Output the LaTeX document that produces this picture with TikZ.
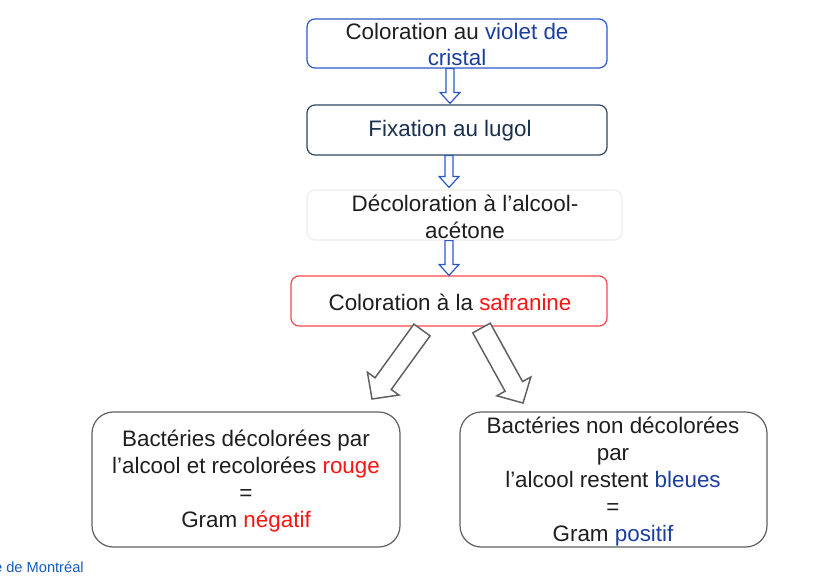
\documentclass[tikz,border=0pt]{standalone}
\usepackage{fontspec}
\setmainfont{Liberation Sans}
\usetikzlibrary{calc}

\definecolor{bleuCadre}{RGB}{44,88,200}
\definecolor{ardoise}{RGB}{45,70,95}
\definecolor{marine}{RGB}{25,48,78}
\definecolor{bleuTexte}{RGB}{28,62,160}
\definecolor{rouge}{RGB}{250,20,20}
\definecolor{rougeCadre}{RGB}{250,70,75}
\definecolor{gris}{RGB}{95,95,95}
\definecolor{texte}{RGB}{30,30,30}
\definecolor{bleuUdeM}{RGB}{20,90,190}

% fleche creuse : style, depart, pointe, demi-largeur du corps, demi-largeur de la tete, longueur de la tete
\newcommand{\flecheBloc}[6]{%
  \coordinate (fb-base) at ($(#3)!#6!(#2)$);
  \draw[#1] ($(#2)!#4!90:(#3)$) -- ($(fb-base)!#4!90:(#3)$) -- ($(fb-base)!#5!90:(#3)$) -- (#3)
    -- ($(fb-base)!#5!-90:(#3)$) -- ($(fb-base)!#4!-90:(#3)$) -- ($(#2)!#4!-90:(#3)$) -- cycle;
}

\begin{document}
\begin{tikzpicture}[x=0.75pt,y=-0.75pt]

    \tikzset{
      etape/.style={
        draw,
        rounded corners=6pt,
        line width=0.9pt,
        inner sep=0pt,
        minimum height=37.5pt,
      },
      resultat/.style={
        draw=gris,
        rounded corners=16pt,
        line width=0.9pt,
        inner sep=0pt,
        minimum height=101.25pt,
      },
      libelle/.style={
        align=center,
        text=texte,
        inner sep=0pt,
        font=\fontsize{16.8}{20.2}\selectfont,
      },
      flecheBleue/.style={draw=bleuCadre,line width=0.9pt,line join=miter,fill=white},
      flecheGrise/.style={draw=gris,line width=1.1pt,line join=miter,fill=white},
    }
    \useasboundingbox (0,0) rectangle (820,578);
    \clip (0,0) rectangle (820,578);

	% etapes de la coloration
	\node[etape,draw=bleuCadre,minimum width=225pt,minimum height=36.75pt] (violet) at (457,43.5) {};
	\node[etape,draw=ardoise,minimum width=225pt] (lugol) at (457,130) {};
	\node[etape,draw=black!7,minimum width=236.25pt] (alcool) at (464.5,215) {};
	\node[etape,draw=rougeCadre,minimum width=237pt] (safranine) at (449,301) {};

	\node[libelle] (t-violet) at (457,44.5) {Coloration au \textcolor{bleuTexte}{violet de}\\\textcolor{bleuTexte}{cristal}};
	\node[libelle,text=marine] (t-lugol) at (450,131) {Fixation au lugol};
	\node[libelle] (t-alcool) at (465,217) {Décoloration à l’alcool-\\acétone};
	\node[libelle] (t-safranine) at (450,302) {Coloration à la \textcolor{rouge}{safranine}};

	% resultats
	\node[resultat,minimum width=231pt] (negatif) at (246,479.5) {};
	\node[resultat,minimum width=230.25pt] (positif) at (613.5,479.5) {};

	\node[libelle] (t-negatif) at (246,481) {Bactéries décolorées par\\l’alcool et recolorées \textcolor{rouge}{rouge}\\=\\Gram \textcolor{rouge}{négatif}};
	\node[libelle] (t-positif) at (613,481.5) {Bactéries non décolorées\\par\\l’alcool restent \textcolor{bleuTexte}{bleues}\\=\\Gram \textcolor{bleuTexte}{positif}};

	% fleches
	\coordinate (v-dep) at ($(violet.south)+(-7,0)$);
	\coordinate (v-fin) at ($(lugol.north)+(-7,-1)$);
	\coordinate (l-dep) at ($(lugol.south)+(-8,0)$);
	\coordinate (l-fin) at ($(alcool.north)+(-15.5,-2)$);
	\coordinate (a-dep) at ($(alcool.south)+(-15.5,0)$);
	\coordinate (a-fin) at ($(safranine.north)+(0,0)$);
	\coordinate (s-gauche) at (422,330);
	\coordinate (s-droite) at (481.5,328);
	\coordinate (n-fin) at (372,399);
	\coordinate (p-fin) at (523,403);

	\flecheBloc{flecheBleue}{v-dep}{v-fin}{3pt}{7.5pt}{8.25pt}
	\flecheBloc{flecheBleue}{l-dep}{l-fin}{3pt}{7.5pt}{8.25pt}
	\flecheBloc{flecheBleue}{a-dep}{a-fin}{3pt}{7.5pt}{8.25pt}
	\flecheBloc{flecheGrise}{s-gauche}{n-fin}{7.5pt}{14.6pt}{14.25pt}
	\flecheBloc{flecheGrise}{s-droite}{p-fin}{7.5pt}{14.6pt}{14.25pt}

	\node[anchor=east,text=bleuUdeM,inner sep=0pt,font=\fontsize{11}{13}\selectfont] (udem) at (84,567) {Université de Montréal};

\end{tikzpicture}
\end{document}
